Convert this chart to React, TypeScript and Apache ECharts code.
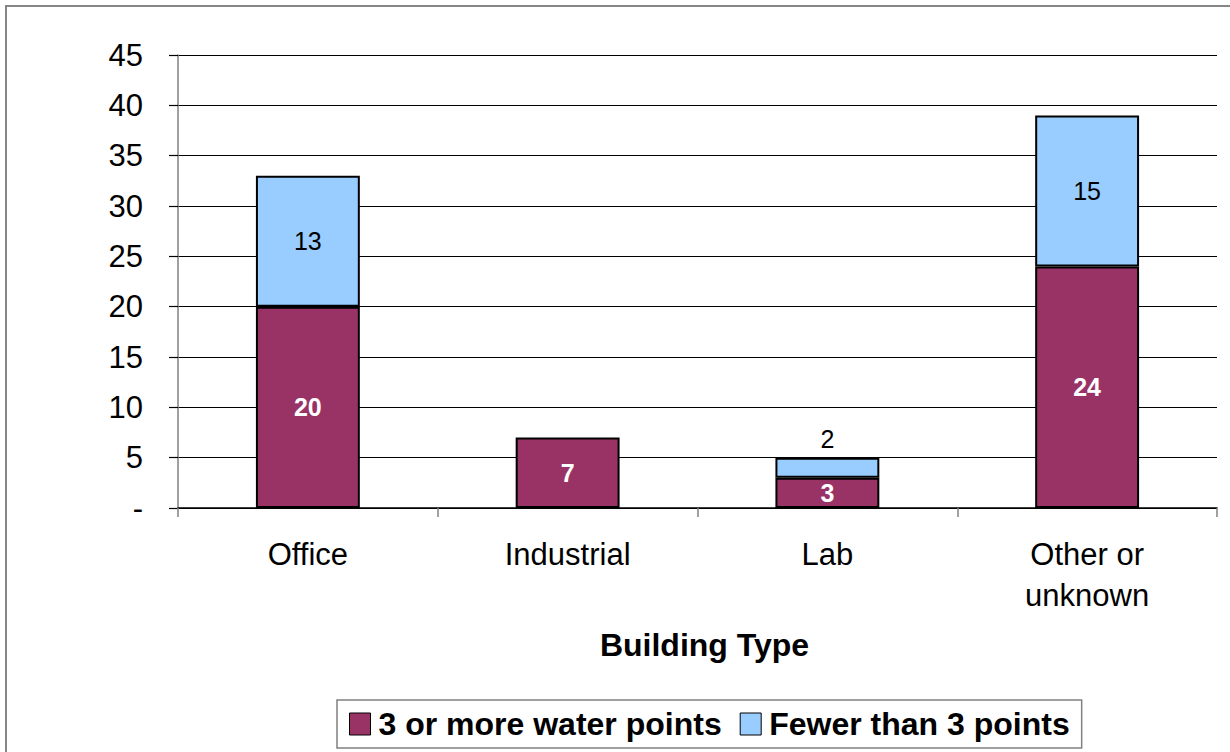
import React, { useEffect, useRef } from "react";
import * as echarts from "echarts";

// Building types along the category axis
const categories: string[] = ["Office", "Industrial", "Lab", "Other or\nunknown"];

// Buildings with 3 or more water points (bottom segment)
const threeOrMore: number[] = [20, 7, 3, 24];
// Buildings with fewer than 3 points (top segment); Industrial has none
const fewerThanThree: (number | null)[] = [13, null, 2, 15];

const seriesNames: string[] = ["3 or more water points", "Fewer than 3 points"];

const yMin = 0;
const yMax = 45;
const yStep = 5;

const FONT = "Liberation Sans, Arial, Helvetica, sans-serif";

export default function App() {
  const ref = useRef<HTMLDivElement>(null);

  useEffect(() => {
    if (!ref.current) return;
    const chart = echarts.init(ref.current, undefined, { renderer: "svg" });

    // Small top segments get their label above the bar instead of inside it
    const topData = fewerThanThree.map((v) =>
      v !== null && v < 3
        ? { value: v, label: { position: "top" as const, distance: 6 } }
        : v
    );

    chart.setOption({
      animation: false,
      backgroundColor: "#ffffff",
      textStyle: { fontFamily: FONT },
      graphic: [
        {
          type: "rect",
          shape: { x: 6, y: 6, width: 1300, height: 800 },
          style: { fill: "none", stroke: "#868686", lineWidth: 2 },
          silent: true,
          z: -1,
        },
      ],
      grid: { left: 178, right: 13, top: 55, bottom: 244, containLabel: false },
      legend: {
        left: 337,
        top: 700,
        orient: "horizontal",
        padding: [8, 12, 8, 12],
        borderColor: "#808080",
        borderWidth: 1.5,
        itemWidth: 21,
        itemHeight: 22,
        itemGap: 18,
        icon: "rect",
        itemStyle: { borderColor: "#000", borderWidth: 1 },
        textStyle: {
          fontFamily: FONT,
          fontSize: 32,
          fontWeight: "bold",
          color: "#000",
          padding: [0, 0, 0, 3],
        },
        data: seriesNames,
      },
      xAxis: {
        type: "category",
        data: categories,
        name: "Building Type",
        nameLocation: "middle",
        nameGap: 121,
        nameTextStyle: {
          fontFamily: FONT,
          fontSize: 32,
          fontWeight: "bold",
          color: "#000",
          verticalAlign: "top",
          padding: [0, 0, 0, 14],
        },
        axisLine: { show: true, lineStyle: { color: "#000", width: 1.5 } },
        axisTick: {
          show: true,
          alignWithLabel: false,
          length: 9,
          lineStyle: { color: "#808080", width: 1.5 },
        },
        axisLabel: {
          fontFamily: FONT,
          fontSize: 31,
          color: "#000",
          margin: 26,
          lineHeight: 41,
        },
      },
      yAxis: {
        type: "value",
        min: yMin,
        max: yMax,
        interval: yStep,
        axisLine: { show: true, lineStyle: { color: "#808080", width: 1.5 } },
        axisTick: { show: true, length: 9, lineStyle: { color: "#000", width: 1.2 } },
        splitLine: { show: true, lineStyle: { color: "#000", width: 1.2 } },
        axisLabel: {
          fontFamily: FONT,
          fontSize: 31,
          color: "#000",
          margin: 35,
          formatter: (v: number) => (v === 0 ? "-" : String(v)),
        },
      },
      series: [
        {
          name: seriesNames[0],
          type: "bar",
          stack: "total",
          barWidth: "40%",
          data: threeOrMore,
          itemStyle: { color: "#993366", borderColor: "#000", borderWidth: 2 },
          label: {
            show: true,
            position: "inside",
            fontFamily: FONT,
            fontSize: 25,
            fontWeight: "bold",
            color: "#fff",
          },
        },
        {
          name: seriesNames[1],
          type: "bar",
          stack: "total",
          barWidth: "40%",
          data: topData,
          itemStyle: { color: "#99CCFF", borderColor: "#000", borderWidth: 2 },
          label: {
            show: true,
            position: "inside",
            fontFamily: FONT,
            fontSize: 25,
            color: "#000",
          },
        },
      ],
    });

    return () => {
      chart.dispose();
    };
  }, []);

  return (
    <div
      ref={ref}
      style={{ position: "fixed", left: 0, top: 0, width: 1230, height: 752 }}
    />
  );
}
